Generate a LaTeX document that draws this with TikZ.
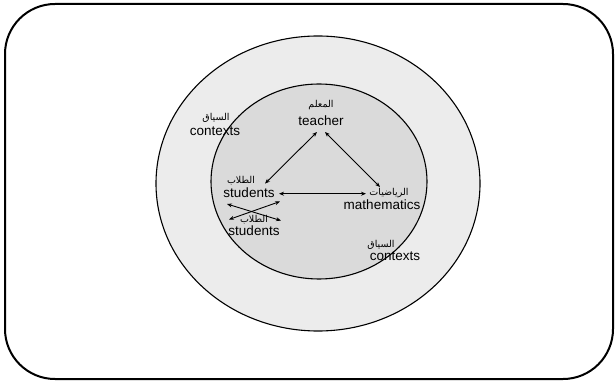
\documentclass[tikz,border=0pt]{standalone}
\usepackage{fontspec}
\setmainfont{Liberation Sans}
\newfontfamily\arabicfont[Script=Arabic]{DejaVu Sans}
\TeXXeTstate=1
\usetikzlibrary{arrows.meta}
\definecolor{ringgray}{gray}{0.925}
\definecolor{coregray}{gray}{0.855}
\tikzset{
  en/.style={inner sep=0pt, font=\fontsize{13.5}{14}\selectfont},
  ar/.style={inner sep=0pt, font=\arabicfont\fontsize{9.5}{10}\selectfont},
  link/.style={line width=0.9pt, {Stealth[length=5pt,width=4pt]}-{Stealth[length=5pt,width=4pt]}}
}
\begin{document}
\begin{tikzpicture}[x=1pt,y=-1pt]
\useasboundingbox (0,0) rectangle (616,382);
% frame
\draw[line width=2pt, rounded corners=50pt] (5,4) rectangle (613,379);
% outer and inner context ellipses
\draw[fill=ringgray, line width=1.1pt] (318,183.5) ellipse [x radius=162, y radius=147.5];
\draw[fill=coregray, line width=1.1pt] (319,181.5) ellipse [x radius=108, y radius=97.5];
% labels
\node[ar] (tAr) at (321,105.5) {\beginR المعلم\endR};
\node[en] (teacher) at (321,120.6) {teacher};
\node[ar] (c1Ar) at (216,118) {\beginR السياق\endR};
\node[en] (contexts1) at (215,131.6) {contexts};
\node[ar] (s1Ar) at (241,181) {\beginR الطلاب\endR};
\node[en] (students1) at (249,192.7) {students};
\node[ar] (mAr) at (389,193) {\beginR الرياضيات\endR};
\node[en] (maths) at (382,205) {mathematics};
\node[ar] (s2Ar) at (254,219.6) {\beginR الطلاب\endR};
\node[en] (students2) at (254,230.6) {students};
\node[ar] (c2Ar) at (381,245) {\beginR السياق\endR};
\node[en] (contexts2) at (395,256) {contexts};
% arrow end points
\coordinate (tL) at (317,132);
\coordinate (tR) at (325,132);
\coordinate (sT) at (265,183.6);
\coordinate (sR) at (279,193.7);
\coordinate (mL) at (366,193.7);
\coordinate (mT) at (380,187);
\coordinate (xA) at (227,204);
\coordinate (xB) at (281,220.6);
\coordinate (xC) at (229,219.5);
\coordinate (xD) at (280,201.5);
% relations
\draw[link] (tL) -- (sT);
\draw[link] (tR) -- (mT);
\draw[link] (sR) -- (mL);
\draw[link] (xA) -- (xB);
\draw[link] (xC) -- (xD);
\end{tikzpicture}
\end{document}
